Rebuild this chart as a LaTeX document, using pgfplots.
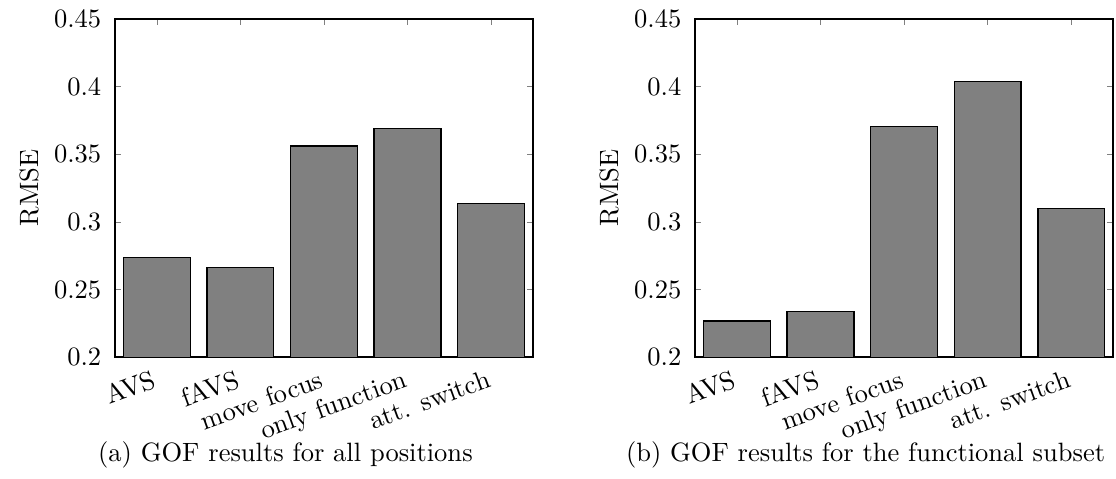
\documentclass[border=0pt]{standalone}
\usepackage{pgfplots}
\pgfplotsset{compat=1.18}

\pgfplotsset{
  gofbars/.style={
    scale only axis,
    width=157.7pt, height=127.6pt,
    ybar, bar width=0.8,
    xmin=0.5, xmax=5.5,
    ymin=0.2, ymax=0.45,
    ytick={0.2,0.25,0.3,0.35,0.4,0.45},
    xtick={1,2,3,4,5},
    xticklabels={AVS, fAVS, move focus, only function, att. switch},
    xticklabel style={rotate=20, anchor=north east},
    yticklabel style={xshift=-1.7pt},
    major tick length=2.2pt,
    tick align=inside,
    ylabel={RMSE},
    ylabel style={yshift=-1.2pt},
    axis line style={black, line width=0.6pt},
  },
  gofbar/.style={fill=black!50, draw=black, line width=0.5pt},
}

\begin{document}
\begin{tikzpicture}
% (a) all positions
\begin{axis}[gofbars, at={(0pt,0pt)}, anchor=south west]
\addplot[gofbar] coordinates {
  (1,0.2735)(2,0.2662)(3,0.3562)(4,0.3692)(5,0.3136)
};
\end{axis}
\node[anchor=base] at (64.3pt,-39.5pt) {(a) GOF results for all positions};

% (b) functional subset
\begin{axis}[gofbars, at={(218.9pt,0pt)}, anchor=south west]
\addplot[gofbar] coordinates {
  (1,0.2267)(2,0.2340)(3,0.3706)(4,0.4039)(5,0.3101)
};
\end{axis}
\node[anchor=base] at (283.2pt,-39.5pt) {(b) GOF results for the functional subset};

% page size as in the reference
\pgfresetboundingbox
\path[use as bounding box] (-43.4pt,-45.9pt) rectangle (377.7pt,134.8pt);
\end{tikzpicture}
\end{document}
